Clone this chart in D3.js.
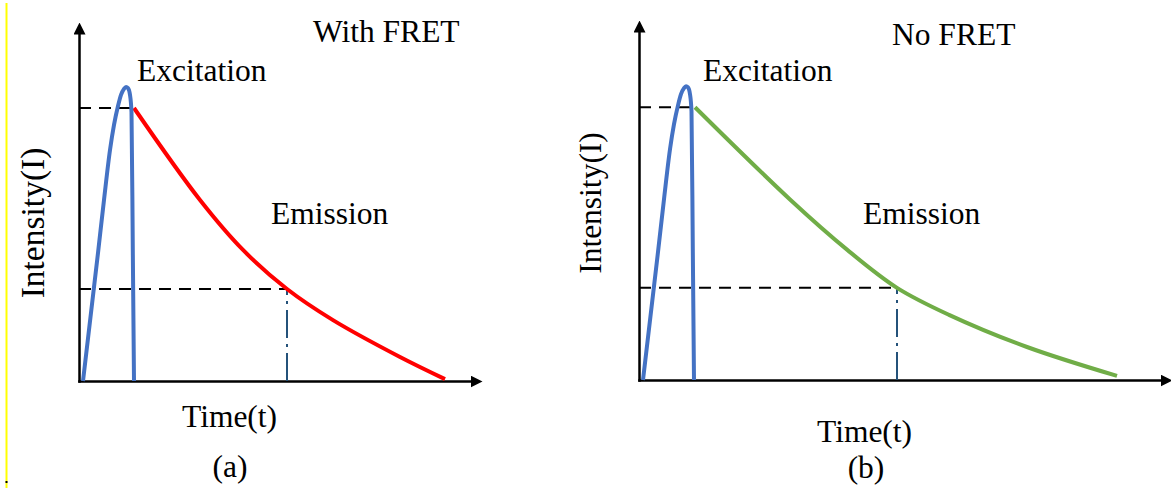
<!DOCTYPE html>
<html>
<head>
<meta charset="utf-8">
<script src="https://cdn.jsdelivr.net/npm/d3@7"></script>
<style>
  html, body { margin: 0; padding: 0; background: #fff; }
  svg { display: block; }
  text { font-family: "Liberation Serif", "Times New Roman", serif; fill: #000; }
</style>
</head>
<body>
<svg id="chart" width="1171" height="489"></svg>
<script>
// ---- data (time in arbitrary units, intensity in arbitrary units) ----
const pulseT = [0.1, 0.475, 0.625, 0.775, 0.875, 0.975, 1.05, 1.125, 1.175, 1.225, 1.275, 1.3125, 1.345, 1.375];
const pulseI = [0, 4.69, 6.63, 8.46, 9.38, 10.07, 10.48, 10.70, 10.77, 10.73, 10.48, 9.85, 4.80, 0];

const emitT_A = [1.375, 3.025, 4.1, 5.2, 6.35, 8.025, 9.15];
const emitI_A = [10, 6.63, 4.80, 3.37, 2.23, 0.88, 0.07];

const emitT_B = [1.4, 3.775, 5.2, 6.45, 7.75, 9.7, 11.95];
const emitI_B = [10, 6.62, 4.78, 3.38, 2.39, 1.21, 0.15];

// reference markers: [time at start of emission, intensity there, lifetime time, intensity there]
const markA = [1.375, 10, 5.2, 3.37];
const markB = [1.4, 10, 6.45, 3.38];

const titles = ["With FRET", "No FRET"];
const panelLabels = ["(a)", "(b)"];
const axisLabels = ["Time(t)", "Intensity(I)"];
const curveNames = ["Excitation", "Emission"];

// ---- layout ----
const svg = d3.select("#chart");
const FONT = "'Liberation Serif', 'Times New Roman', serif";

// yellow edge line (present in reference)
svg.append("line").attr("x1", 6.5).attr("x2", 6.5).attr("y1", 3).attr("y2", 488)
  .attr("stroke", "#ffff00").attr("stroke-width", 2);
svg.append("rect").attr("x", 5.5).attr("y", 481).attr("width", 2).attr("height", 2).attr("fill", "#000");

const defs = svg.append("defs");
defs.append("marker")
  .attr("id", "arrow")
  .attr("viewBox", "0 -6 12 12")
  .attr("refX", 2).attr("refY", 0)
  .attr("markerWidth", 12).attr("markerHeight", 12)
  .attr("markerUnits", "userSpaceOnUse")
  .attr("orient", "auto")
  .append("path").attr("d", "M0,-6L12,0L0,6Z").attr("fill", "#000");

const panels = [
  { x0: 79, y0: 381, xMax: 10.075, yMax: 13.15, xTip: 482, yTip: 22,
    t: emitT_A, i: emitI_A, color: "#ff0000", mark: markA,
    title: titles[0], titleX: 313, titleY: 42,
    excX: 137, excY: 81, emX: 271, emY: 224,
    timeX: 182, timeY: 427, labX: 230, labY: 477,
    yLabX: 32, yLabY: 223, yLabSize: 33.5, label: panelLabels[0] },
  { x0: 639, y0: 380, xMax: 13.325, yMax: 13.2, xTip: 1172, yTip: 20,
    t: emitT_B, i: emitI_B, color: "#70ad47", mark: markB,
    title: titles[1], titleX: 892, titleY: 45,
    excX: 703, excY: 81, emX: 863, emY: 224,
    timeX: 817, timeY: 442, labX: 866, labY: 478,
    yLabX: 590, yLabY: 203, yLabSize: 31.5, label: panelLabels[1] }
];

const FS = 31.5;

panels.forEach(p => {
  const x = d3.scaleLinear().domain([0, p.xMax]).range([p.x0, p.xTip]);
  const y = d3.scaleLinear().domain([0, p.yMax]).range([p.y0, p.yTip]);
  const g = svg.append("g");

  // axes (domain lines only, ending in arrowheads)
  const xAxisScale = x.copy().range([p.x0, p.xTip - 10]);
  const yAxisScale = y.copy().range([p.y0, p.yTip + 10]);
  const gx = g.append("g").attr("transform", `translate(0,${p.y0})`)
    .call(d3.axisBottom(xAxisScale).tickValues([]).tickSizeOuter(0));
  const gy = g.append("g").attr("transform", `translate(${p.x0},0)`)
    .call(d3.axisLeft(yAxisScale).tickValues([]).tickSizeOuter(0));
  [gx, gy].forEach(a => a.select(".domain")
    .attr("stroke", "#000").attr("stroke-width", 2.5)
    .attr("stroke-linecap", "square")
    .attr("marker-end", "url(#arrow)"));

  const [tS, iS, tL, iL] = p.mark;
  // dashed guides
  g.append("line").attr("x1", x(0)).attr("x2", x(tS)).attr("y1", y(iS)).attr("y2", y(iS))
    .attr("stroke", "#000").attr("stroke-width", 2).attr("stroke-dasharray", "12,8");
  g.append("line").attr("x1", x(0)).attr("x2", x(tL)).attr("y1", y(iL)).attr("y2", y(iL))
    .attr("stroke", "#000").attr("stroke-width", 2).attr("stroke-dasharray", "12,8");
  // dash-dot lifetime marker
  g.append("line").attr("x1", x(tL)).attr("x2", x(tL)).attr("y1", y(0)).attr("y2", y(iL))
    .attr("stroke", "#24527a").attr("stroke-width", 2).attr("stroke-dasharray", "28,6,3,6");

  const pulseLine = d3.line().x(d => x(d[0])).y(d => y(d[1])).curve(d3.curveMonotoneX);
  const emitLine = d3.line().x(d => x(d[0])).y(d => y(d[1])).curve(d3.curveCatmullRom.alpha(0.5));

  // emission decay
  g.append("path").datum(p.t.map((t, k) => [t, p.i[k]]))
    .attr("d", emitLine).attr("fill", "none").attr("stroke", p.color).attr("stroke-width", 4);

  // excitation pulse
  g.append("path").datum(pulseT.map((t, k) => [t, pulseI[k]]))
    .attr("d", pulseLine).attr("fill", "none").attr("stroke", "#4472c4").attr("stroke-width", 4)
    .attr("stroke-linejoin", "round");

  // texts
  const txt = (tx, ty, s, size) => g.append("text").attr("x", tx).attr("y", ty)
    .attr("font-family", FONT).attr("font-size", size || FS).text(s);
  txt(p.titleX, p.titleY, p.title);
  txt(p.excX, p.excY, curveNames[0]);
  txt(p.emX, p.emY, curveNames[1]);
  txt(p.timeX, p.timeY, axisLabels[0]);
  txt(p.labX, p.labY, p.label).attr("text-anchor", "middle");
  g.append("text")
    .attr("transform", `translate(${p.yLabX},${p.yLabY}) rotate(-90)`)
    .attr("text-anchor", "middle").attr("dominant-baseline", "central")
    .attr("font-family", FONT)
    .attr("font-size", p.yLabSize).text(axisLabels[1]);
});
</script>
</body>
</html>
